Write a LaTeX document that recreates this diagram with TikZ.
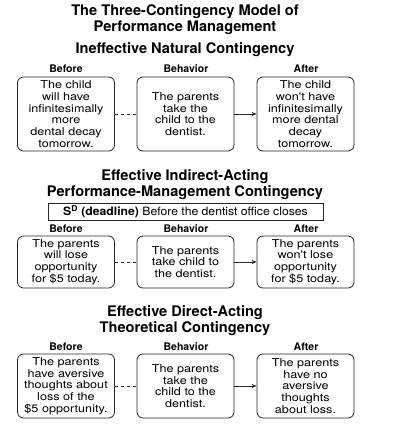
\documentclass[tikz,border=0pt]{standalone}
\usepackage{fontspec}
\setmainfont{TeX Gyre Heros}
\newfontfamily\boxfont[FakeStretch=1.17]{TeX Gyre Heros}
\newfontfamily\sdfont[FakeStretch=1.06]{TeX Gyre Heros}
\usetikzlibrary{arrows.meta}
\begin{document}
\begin{tikzpicture}[x=1pt,y=-1pt,
  box/.style={draw=black!85,line width=0.8pt,rounded corners=6pt,align=center,inner sep=0pt,
     minimum width=97pt,font=\boxfont\fontsize{10.8}{11.7}\selectfont},
  head/.style={font=\bfseries\fontsize{14.6}{16}\selectfont,align=center,inner sep=0pt},
  lab/.style={font=\bfseries\fontsize{10.5}{12}\selectfont,inner sep=0pt},
  dashc/.style={draw=black!85,line width=0.8pt,dash pattern=on 3.5pt off 2.5pt},
  arr/.style={draw=black!85,line width=0.8pt,-{Stealth[length=5pt,width=4pt]}}]
\useasboundingbox (0,0) rectangle (408,425);
% titles
\node[head] (t1) at (185,20) {The Three-Contingency Model of\\Performance Management};
\node[head] (h1) at (185,50) {Ineffective Natural Contingency};
% row 1
\node[lab] (l1a) at (66,69) {Before};
\node[lab] (l1b) at (186,69) {Behavior};
\node[lab] (l1c) at (306,69) {After};
\node[box,minimum height=74pt] (b1a) at (66,114) {The child\\will have\\infinitesimally\\more\\dental decay\\tomorrow.};
\node[box,minimum height=74pt] (b1b) at (185.5,114) {The parents\\take the\\child to the\\dentist.};
\node[box,minimum height=74pt] (b1c) at (305.5,114) {The child\\won't have\\infinitesimally\\more dental\\decay\\tomorrow.};
\draw[dashc] (b1a) -- (b1b);
\draw[arr] (b1b) -- (b1c);
% row 2
\node[head] (h2) at (185,184.5) {Effective Indirect-Acting\\Performance-Management Contingency};
\node[draw=black!85,line width=0.9pt,inner sep=1.5pt,minimum width=275pt,minimum height=17pt,font=\sdfont\fontsize{11.5}{13}\selectfont] (sd) at (185.5,211.5) {\textbf{S\textsuperscript{D} (deadline)} Before the dentist office closes};
\node[lab] (l2a) at (66,229) {Before};
\node[lab] (l2b) at (186,229) {Behavior};
\node[lab] (l2c) at (306,229) {After};
\node[box,minimum height=52pt] (b2a) at (66,262) {The parents\\will lose\\opportunity\\for \$5 today.};
\node[box,minimum height=52pt] (b2b) at (185.5,262) {The parents\\take child to\\the dentist.};
\node[box,minimum height=52pt] (b2c) at (305.5,262) {The parents\\won't lose\\opportunity\\for \$5 today.};
\draw[dashc] (b2a) -- (b2b);
\draw[arr] (b2b) -- (b2c);
% row 3
\node[head] (h3) at (185,320.5) {Effective Direct-Acting\\Theoretical Contingency};
\node[lab] (l3a) at (66,347) {Before};
\node[lab] (l3b) at (186,347) {Behavior};
\node[lab] (l3c) at (306,347) {After};
\node[box,minimum height=64pt] (b3a) at (66,386) {The parents\\have aversive\\thoughts about\\loss of the\\\$5 opportunity.};
\node[box,minimum height=64pt] (b3b) at (185.5,386) {The parents\\take the\\child to the\\dentist.};
\node[box,minimum height=64pt] (b3c) at (305.5,386) {The parents\\have no\\aversive\\thoughts\\about loss.};
\draw[dashc] (b3a) -- (b3b);
\draw[arr] (b3b) -- (b3c);
\end{tikzpicture}
\end{document}
